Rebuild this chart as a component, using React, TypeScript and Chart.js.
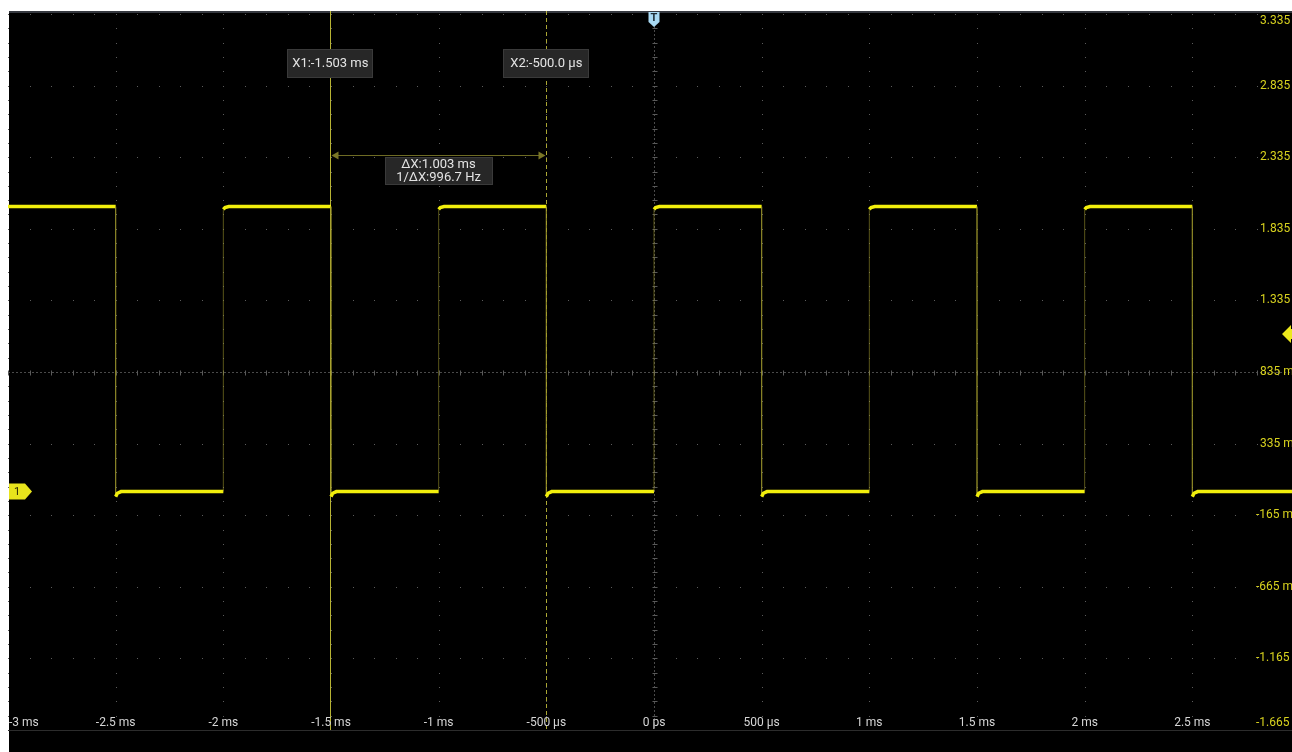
import React, { useEffect, useRef } from "react";
import { Chart, registerables } from "chart.js";

Chart.register(...registerables);

// ---- data ----
const edgeTimesMs = [-2.5, -2.0, -1.5, -1.0, -0.5, 0.0, 0.5, 1.0, 1.5, 2.0, 2.5];
const startsHigh = true;
const highLevelV = 1.99;
const lowLevelV = 0.0;
const settleOffsetsMs = [0, 0.008, 0.025];
const lowSettleV = [-0.035, -0.012, 0.0];
const highSettleV = [1.97, 1.984, 1.99];

const xMin = -3;
const xMax = 3;
const yMin = -1.665;
const yMax = 3.335;

const xTickValues = [-3, -2.5, -2, -1.5, -1, -0.5, 0, 0.5, 1, 1.5, 2, 2.5, 3];
const xTickLabels = ["-3 ms", "-2.5 ms", "-2 ms", "-1.5 ms", "-1 ms", "-500 µs", "0 ps", "500 µs", "1 ms", "1.5 ms", "2 ms", "2.5 ms", ""];
const yTickValues = [3.335, 2.835, 2.335, 1.835, 1.335, 0.835, 0.335, -0.165, -0.665, -1.165, -1.665];
const yTickLabels = ["3.335 V", "2.835 V", "2.335 V", "1.835 V", "1.335 V", "835 mV", "335 mV", "-165 mV", "-665 mV", "-1.165 V", "-1.665 V"];

const centerX = 0;
const centerY = 0.835;
const groundLevelV = 0;
const triggerLevelV = 1.1;
const triggerTimeMs = 0;

const cursorTimesMs = [-1.503, -0.5];
const cursorLabels = ["X1:-1.503 ms", "X2:-500.0 µs"];
const deltaLabels = ["ΔX:1.003 ms", "1/ΔX:996.7 Hz"];
const deltaArrowV = 2.35;

function buildWave() {
  const pts: { x: number; y: number }[] = [];
  let high = startsHigh;
  pts.push({ x: xMin, y: high ? highLevelV : lowLevelV });
  for (const e of edgeTimesMs) {
    const prev = high ? highLevelV : lowLevelV;
    pts.push({ x: e, y: prev });
    high = !high;
    const settle = high ? highSettleV : lowSettleV;
    settleOffsetsMs.forEach((o, i) => pts.push({ x: e + o, y: settle[i] }));
  }
  pts.push({ x: xMax, y: high ? highLevelV : lowLevelV });
  return pts;
}

const FONT = "Roboto, 'Noto Sans', sans-serif";

function box(ctx: CanvasRenderingContext2D, x: number, y: number, w: number, h: number) {
  ctx.fillStyle = "#272727";
  ctx.fillRect(x, y, w, h);
  ctx.strokeStyle = "#3a3a3a";
  ctx.lineWidth = 1;
  ctx.strokeRect(x + 0.5, y + 0.5, w - 1, h - 1);
}

const overlay = {
  id: "scopeOverlay",
  beforeDatasetsDraw(chart: any) {
    const { ctx, chartArea: a, scales } = chart;
    const xs = scales.x;
    const ys = scales.y;
    ctx.save();
    // grid dots
    ctx.fillStyle = "#5c5c5c";
    const xMajorPx = xTickValues.map((v) => Math.round(xs.getPixelForValue(v)));
    const yMajorPx = yTickValues.map((v) => Math.round(ys.getPixelForValue(v)));
    for (let i = 0; i < xTickValues.length; i++) {
      if (xTickValues[i] === centerX) continue;
      for (let j = 0; j < yTickValues.length - 1; j++) {
        for (let k = 0; k < 5; k++) {
          const py = Math.round(ys.getPixelForValue(yTickValues[j] - k * 0.1));
          ctx.fillRect(xMajorPx[i], py, 1, 1);
        }
      }
    }
    for (let j = 0; j < yTickValues.length; j++) {
      if (Math.abs(yTickValues[j] - centerY) < 1e-6) continue;
      for (let i = 0; i < xTickValues.length - 1; i++) {
        for (let k = 0; k < 5; k++) {
          const px = Math.round(xs.getPixelForValue(xTickValues[i] + k * 0.1));
          ctx.fillRect(px, yMajorPx[j], 1, 1);
        }
      }
    }
    // center cross
    const cx = Math.round(xs.getPixelForValue(centerX)) + 0.5;
    const cy = Math.round(ys.getPixelForValue(centerY)) + 0.5;
    ctx.strokeStyle = "#4a4a4a";
    ctx.lineWidth = 1;
    ctx.setLineDash([2, 2]);
    ctx.beginPath();
    ctx.moveTo(a.left, cy);
    ctx.lineTo(a.right, cy);
    ctx.moveTo(cx, a.top);
    ctx.lineTo(cx, a.bottom);
    ctx.stroke();
    ctx.setLineDash([]);
    ctx.strokeStyle = "#5a5a5a";
    ctx.beginPath();
    for (let v = xMin; v <= xMax + 1e-9; v += 0.1) {
      const px = Math.round(xs.getPixelForValue(v)) + 0.5;
      ctx.moveTo(px, cy - 2);
      ctx.lineTo(px, cy + 3);
    }
    for (let v = yMin; v <= yMax + 1e-9; v += 0.1) {
      const py = Math.round(ys.getPixelForValue(v)) + 0.5;
      ctx.moveTo(cx - 2, py);
      ctx.lineTo(cx + 3, py);
    }
    ctx.stroke();
    // bottom border
    ctx.strokeStyle = "#2c2c2c";
    ctx.beginPath();
    ctx.moveTo(a.left, a.bottom + 0.5);
    ctx.lineTo(a.right, a.bottom + 0.5);
    ctx.stroke();
    // cursors
    const x1 = Math.round(xs.getPixelForValue(cursorTimesMs[0])) + 0.5;
    const x2 = Math.round(xs.getPixelForValue(cursorTimesMs[1])) + 0.5;
    ctx.strokeStyle = "rgba(215,210,60,0.85)";
    ctx.beginPath();
    ctx.moveTo(x1, a.top - 3);
    ctx.lineTo(x1, a.bottom);
    ctx.stroke();
    ctx.setLineDash([4, 3]);
    ctx.strokeStyle = "rgba(200,195,60,0.85)";
    ctx.beginPath();
    ctx.moveTo(x2, a.top - 3);
    ctx.lineTo(x2, a.bottom);
    ctx.stroke();
    ctx.setLineDash([]);
    ctx.restore();
  },
  afterDatasetsDraw(chart: any) {
    const { ctx, chartArea: a, scales } = chart;
    const xs = scales.x;
    const ys = scales.y;
    ctx.save();
    // x tick labels
    ctx.font = `12px ${FONT}`;
    ctx.fillStyle = "#d6d6d6";
    ctx.textBaseline = "middle";
    const labelY = a.bottom - 7;
    xTickValues.forEach((v, i) => {
      const t = xTickLabels[i];
      if (!t) return;
      const px = xs.getPixelForValue(v);
      const w = ctx.measureText(t).width;
      if (px - w / 2 < a.left + 1) {
        ctx.textAlign = "left";
        ctx.fillText(t, a.left + 1, labelY);
      } else {
        ctx.textAlign = "center";
        ctx.fillText(t, px, labelY);
      }
    });
    // y tick labels
    ctx.fillStyle = "#d8d21e";
    ctx.textAlign = "left";
    yTickValues.forEach((v, i) => {
      const t = yTickLabels[i];
      let py = ys.getPixelForValue(v);
      if (i === 0) py = a.top + 7;
      if (i === yTickValues.length - 1) py = labelY;
      const lx = 1248 + (t.startsWith("-") ? 0 : 4);
      ctx.fillText(t, lx, py);
    });
    // cursor label boxes
    ctx.font = `13px ${FONT}`;
    cursorTimesMs.forEach((v, i) => {
      const px = xs.getPixelForValue(v);
      const w = 86;
      const bx = Math.round(px - w / 2);
      box(ctx, bx, 49, w, 29);
      ctx.fillStyle = "#e4e4e4";
      ctx.textAlign = "center";
      ctx.textBaseline = "middle";
      ctx.fillText(cursorLabels[i], px, 64);
    });
    // delta arrow
    const x1 = Math.round(xs.getPixelForValue(cursorTimesMs[0])) + 0.5;
    const x2 = Math.round(xs.getPixelForValue(cursorTimesMs[1])) + 0.5;
    const ay = Math.round(ys.getPixelForValue(deltaArrowV)) + 0.5;
    ctx.strokeStyle = "#6e6b24";
    ctx.fillStyle = "#7a7626";
    ctx.lineWidth = 1;
    ctx.beginPath();
    ctx.moveTo(x1 + 6, ay);
    ctx.lineTo(x2 - 6, ay);
    ctx.stroke();
    ctx.beginPath();
    ctx.moveTo(x1 + 1, ay);
    ctx.lineTo(x1 + 8, ay - 4);
    ctx.lineTo(x1 + 8, ay + 4);
    ctx.closePath();
    ctx.fill();
    ctx.beginPath();
    ctx.moveTo(x2 - 1, ay);
    ctx.lineTo(x2 - 8, ay - 4);
    ctx.lineTo(x2 - 8, ay + 4);
    ctx.closePath();
    ctx.fill();
    // delta box
    const mid = (x1 + x2) / 2;
    box(ctx, Math.round(mid - 54), 157, 108, 28);
    ctx.fillStyle = "#e4e4e4";
    ctx.textAlign = "center";
    ctx.textBaseline = "middle";
    ctx.fillText(deltaLabels[0], mid, 164.5);
    ctx.fillText(deltaLabels[1], mid, 177.5);
    // T marker
    const tx = xs.getPixelForValue(triggerTimeMs);
    ctx.fillStyle = "#a9d9f3";
    ctx.beginPath();
    ctx.moveTo(tx - 5.5, a.top - 2);
    ctx.lineTo(tx + 5.5, a.top - 2);
    ctx.lineTo(tx + 5.5, a.top + 8);
    ctx.lineTo(tx, a.top + 13);
    ctx.lineTo(tx - 5.5, a.top + 8);
    ctx.closePath();
    ctx.fill();
    ctx.fillStyle = "#1c2a33";
    ctx.font = `bold 11px ${FONT}`;
    ctx.fillText("T", tx, a.top + 4);
    // ground marker "1"
    const gy = ys.getPixelForValue(groundLevelV);
    ctx.fillStyle = "#e8e41c";
    ctx.beginPath();
    ctx.moveTo(a.left + 1, gy - 8);
    ctx.lineTo(a.left + 17, gy - 8);
    ctx.lineTo(a.left + 24, gy);
    ctx.lineTo(a.left + 17, gy + 8);
    ctx.lineTo(a.left + 1, gy + 8);
    ctx.closePath();
    ctx.fill();
    ctx.fillStyle = "#2a2a08";
    ctx.font = `11px ${FONT}`;
    ctx.fillText("1", a.left + 9, gy + 0.5);
    // trigger level marker
    const ty = ys.getPixelForValue(triggerLevelV);
    ctx.fillStyle = "#ece81c";
    ctx.beginPath();
    ctx.moveTo(1274, ty);
    ctx.lineTo(1283, ty - 9);
    ctx.lineTo(1283, ty - 5);
    ctx.lineTo(1300, ty - 5);
    ctx.lineTo(1300, ty + 5);
    ctx.lineTo(1283, ty + 5);
    ctx.lineTo(1283, ty + 9);
    ctx.closePath();
    ctx.fill();
    ctx.restore();
  },
};

export default function App() {
  const ref = useRef<HTMLCanvasElement | null>(null);
  useEffect(() => {
    if (!ref.current) return;
    const wave = buildWave();
    const chart = new Chart(ref.current, {
      type: "line",
      data: {
        datasets: [
          {
            data: wave,
            borderColor: "#f2ef0c",
            borderWidth: 3.5,
            pointRadius: 0,
            tension: 0,
            fill: false,
            segment: {
              borderColor: (c: any) =>
                c.p0.parsed.x === c.p1.parsed.x ? "rgba(160,155,45,0.55)" : "#f2ef0c",
              borderWidth: (c: any) => (c.p0.parsed.x === c.p1.parsed.x ? 1 : 3.5),
            },
          } as any,
        ],
      },
      options: {
        animation: false,
        responsive: false,
        maintainAspectRatio: false,
        events: [],
        layout: { padding: { top: 14, bottom: 22, left: 0, right: 0 } },
        plugins: { legend: { display: false }, tooltip: { enabled: false } },
        scales: {
          x: { type: "linear", min: xMin, max: xMax, display: false },
          y: { type: "linear", min: yMin, max: yMax, display: false },
        },
      },
      plugins: [overlay],
    });
    return () => chart.destroy();
  }, []);
  return (
    <div style={{ position: "fixed", inset: 0, overflow: "hidden", background: "#fff" }}>
      <div
        style={{
          position: "absolute",
          left: 9,
          top: 11,
          right: 0,
          bottom: 0,
          background: "#000",
          borderTop: "2px solid #363940",
        }}
      />
      <canvas
        ref={ref}
        width={1292}
        height={752}
        style={{ position: "absolute", left: 8, top: 0, width: 1292, height: 752, display: "block" }}
      />
    </div>
  );
}
